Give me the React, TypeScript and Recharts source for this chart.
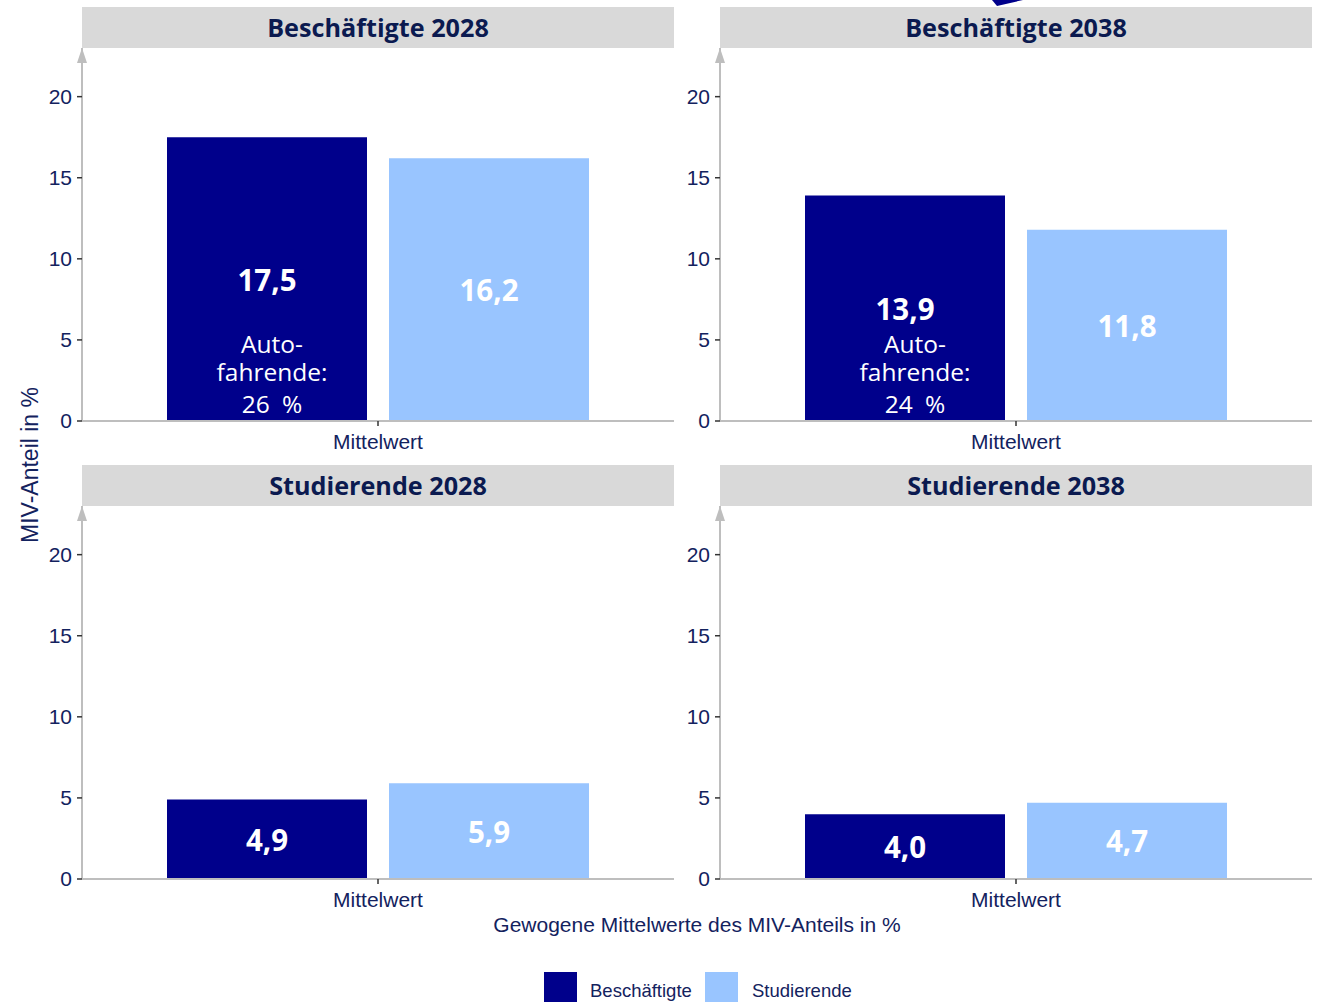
import React from "react";
import { BarChart, Bar, XAxis, YAxis, LabelList } from "recharts";

const panelTitles = ["Beschäftigte 2028", "Beschäftigte 2038", "Studierende 2028", "Studierende 2038"];
const categories = ["Mittelwert"];
const beschaeftigte = [17.5, 13.9, 4.9, 4.0];
const studierende = [16.2, 11.8, 5.9, 4.7];
const autofahrende = ["26 %", "24 %", "", ""];
const yTicks = [0, 5, 10, 15, 20];
const seriesNames = ["Beschäftigte", "Studierende"];

const DARK = "#00008B";
const LIGHT = "#99C5FF";
const NAVY = "#13225e";
const TITLE = "#0b1a50";
const AXIS = "#bebebe";
const SANS = "'Liberation Sans', Arial, sans-serif";
const OPEN = "'Open Sans', sans-serif";

const fmt = (v: number) => v.toFixed(1).replace(".", ",");

const panelPos = [
  { left: 0, top: 7 },
  { left: 638, top: 7 },
  { left: 0, top: 465 },
  { left: 638, top: 465 },
];
const extraShift = [5, 10, 0, 0];

const CHART_W = 674;
const CHART_H = 455;
const MARGIN_TOP = 41;
const YAXIS_W = 82;

function makeLabel(extra: string, shift: number) {
  return (props: any) => {
    const { x, y, width, height, value } = props;
    const cx = Number(x) + Number(width) / 2;
    const cy = Number(y) + Number(height) / 2;
    const bottom = Number(y) + Number(height);
    const ex = cx + shift;
    return (
      <g>
        <text x={cx} y={cy} textAnchor="middle" dominantBaseline="central" fill="#ffffff" fontFamily={OPEN} fontWeight={700} fontSize={29.5}>
          {fmt(Number(value))}
        </text>
        {extra ? (
          <g>
            <text x={ex} y={bottom - 78} textAnchor="middle" dominantBaseline="central" fill="#ffffff" fontFamily={OPEN} fontSize={24.5}>Auto-</text>
            <text x={ex} y={bottom - 50} textAnchor="middle" dominantBaseline="central" fill="#ffffff" fontFamily={OPEN} fontSize={24.5}>fahrende:</text>
            <text x={ex} y={bottom - 18} textAnchor="middle" dominantBaseline="central" fill="#ffffff" fontFamily={OPEN} fontSize={24.5}>{extra.replace(" ", "\u2002")}</text>
          </g>
        ) : null}
      </g>
    );
  };
}

function Panel({ idx }: { idx: number }) {
  const data = categories.map((c) => ({ name: c, b: beschaeftigte[idx], s: studierende[idx] }));
  const pos = panelPos[idx];
  return (
    <div style={{ position: "absolute", left: pos.left, top: pos.top }}>
      <BarChart width={CHART_W} height={CHART_H} data={data} margin={{ top: MARGIN_TOP, right: 0, bottom: 0, left: 0 }} barGap={22}>
        <XAxis
          dataKey="name"
          height={41}
          tickSize={5}
          tickMargin={8}
          axisLine={{ stroke: AXIS, strokeWidth: 2 }}
          tickLine={{ stroke: "#333333", strokeWidth: 1.5 }}
          tick={{ fill: NAVY, fontSize: 21, fontFamily: SANS }}
        />
        <YAxis
          width={YAXIS_W}
          domain={[0, 23]}
          ticks={yTicks}
          allowDataOverflow
          tickSize={5}
          tickMargin={5}
          axisLine={{ stroke: AXIS, strokeWidth: 2 }}
          tickLine={{ stroke: "#333333", strokeWidth: 1.5 }}
          tick={{ fill: NAVY, fontSize: 21, fontFamily: SANS }}
        />
        <Bar dataKey="b" name={seriesNames[0]} fill={DARK} barSize={200} isAnimationActive={false}>
          <LabelList dataKey="b" content={makeLabel(autofahrende[idx], extraShift[idx])} />
        </Bar>
        <Bar dataKey="s" name={seriesNames[1]} fill={LIGHT} barSize={200} isAnimationActive={false}>
          <LabelList dataKey="s" content={makeLabel("", 0)} />
        </Bar>
      </BarChart>
    </div>
  );
}

export default function App() {
  return (
    <div style={{ position: "fixed", left: 0, top: 0, width: 1322, height: 1002, background: "#ffffff", overflow: "hidden" }}>
      {panelTitles.map((_, i) => (
        <Panel key={i} idx={i} />
      ))}
      <svg width={1322} height={1002} style={{ position: "absolute", left: 0, top: 0, pointerEvents: "none" }}>
        <polygon points="992,0 997,6 1023,0" fill={DARK} />
        {panelTitles.map((t, i) => {
          const pos = panelPos[i];
          const x0 = pos.left + YAXIS_W;
          const y0 = pos.top;
          const w = CHART_W - YAXIS_W;
          return (
            <g key={t}>
              <rect x={x0} y={y0} width={w} height={MARGIN_TOP} fill="#d9d9d9" />
              <text x={x0 + w / 2} y={y0 + 20} textAnchor="middle" dominantBaseline="central" fill={TITLE} fontFamily={OPEN} fontWeight={700} fontSize={25.2}>
                {t}
              </text>
              <polygon points={`${x0 - 5},${y0 + MARGIN_TOP + 15} ${x0},${y0 + MARGIN_TOP} ${x0 + 5},${y0 + MARGIN_TOP + 15}`} fill={AXIS} />
            </g>
          );
        })}
        <text x={30} y={465} transform="rotate(-90 30 465)" textAnchor="middle" dominantBaseline="central" fill={NAVY} fontFamily={SANS} fontSize={23}>
          MIV-Anteil in %
        </text>
        <text x={697} y={924} textAnchor="middle" dominantBaseline="central" fill={NAVY} fontFamily={SANS} fontSize={21}>
          Gewogene Mittelwerte des MIV-Anteils in %
        </text>
        <rect x={544} y={972} width={33} height={33} fill={DARK} />
        <text x={590} y={990} dominantBaseline="central" fill={NAVY} fontFamily={SANS} fontSize={18.5}>{seriesNames[0]}</text>
        <rect x={705} y={972} width={33} height={33} fill={LIGHT} />
        <text x={752} y={990} dominantBaseline="central" fill={NAVY} fontFamily={SANS} fontSize={18.5}>{seriesNames[1]}</text>
      </svg>
    </div>
  );
}
